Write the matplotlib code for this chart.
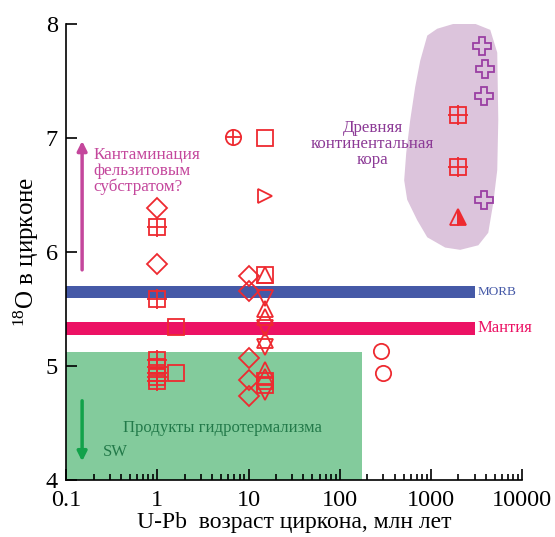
import numpy as np
import matplotlib
matplotlib.use("Agg")
import matplotlib.pyplot as plt
from matplotlib.ticker import FuncFormatter, LogLocator, NullFormatter

plt.rcParams['font.family'] = ['Liberation Serif', 'DejaVu Serif']
plt.rcParams['mathtext.fontset'] = 'custom'
plt.rcParams['mathtext.rm'] = 'Liberation Serif'
plt.rcParams['mathtext.default'] = 'regular'

# zircon samples: U-Pb age (Ma) and d18O, grouped by symbol
diamond_age = [1, 1, 10, 10, 10, 10, 10]
diamond_d18o = [6.39, 5.90, 5.79, 5.66, 5.07, 4.88, 4.74]

gridsq_age = [1, 1, 1, 1, 1, 1, 1, 2000, 2000]
gridsq_d18o = [6.22, 5.59, 5.05, 4.99, 4.94, 4.90, 4.87, 7.20, 6.75]

square_age = [1.6, 1.6, 15, 15, 15, 15]
square_d18o = [5.34, 4.94, 7.00, 5.80, 4.87, 4.83]

crosscirc_age = [6.8]
crosscirc_d18o = [7.01]

rtri_age = [15]
rtri_d18o = [6.49]

utri_age = [15, 15, 15, 15, 15, 15]
utri_d18o = [5.80, 5.50, 5.43, 5.23, 4.97, 4.90]

dtri_age = [15, 15, 15, 15]
dtri_d18o = [5.60, 5.33, 5.17, 4.77]

circle_age = [280, 300]
circle_d18o = [5.13, 4.94]

halftri_age = [2000]
halftri_d18o = [6.31]

plus_age = [3600, 3900, 3800, 3800]
plus_d18o = [7.81, 7.61, 7.37, 6.46]

# reference ranges
morb_range = (5.60, 5.70)
mantle_range = (5.27, 5.39)
band_end = 3000
hydro_top = 5.12
hydro_end = 175

# outline of the ancient continental crust field
crust_age = [2090, 2900, 4460, 5320, 5460, 5320, 4810, 4240, 3300, 2090, 1430,
             910, 706, 548, 508, 535, 592, 671, 762, 910, 1170]
crust_d18o = [8.02, 8.01, 7.95, 7.75, 7.16, 6.72, 6.43, 6.17, 6.06, 6.02, 6.04,
              6.13, 6.28, 6.46, 6.63, 6.87, 7.16, 7.45, 7.68, 7.90, 7.96]

red = '#ee2a30'
purple = '#9a3fa3'

fig = plt.figure(figsize=(5.55, 5.37), dpi=100)
ax = fig.add_axes([0.119, 0.106, 0.822, 0.849])

ax.fill(crust_age, crust_d18o, color='#dcc4dc', lw=0, zorder=0)
ax.fill_between([0.1, band_end], *morb_range, color='#4559a7', lw=0, zorder=1)
ax.fill_between([0.1, band_end], *mantle_range, color='#ec1264', lw=0, zorder=1)
ax.fill_between([0.1, hydro_end], 4.0, hydro_top, color='#83cb9c', lw=0, zorder=1)

mk = dict(ls='none', mfc='none', mec=red, mew=1.3, zorder=3)
ax.plot(diamond_age, diamond_d18o, marker='D', ms=10.5, **mk)
ax.plot(gridsq_age, gridsq_d18o, marker='s', ms=12, **mk)
ax.plot(gridsq_age, gridsq_d18o, marker='+', ms=15, **mk)
ax.plot(square_age, square_d18o, marker='s', ms=12, **mk)
ax.plot(crosscirc_age, crosscirc_d18o, marker='o', ms=11, **mk)
ax.plot(crosscirc_age, crosscirc_d18o, marker='+', ms=11, **mk)
ax.plot(rtri_age, rtri_d18o, marker='>', ms=10, **mk)
ax.plot(utri_age, utri_d18o, marker='^', ms=11, **mk)
ax.plot(dtri_age, dtri_d18o, marker='v', ms=11, **mk)
ax.plot(circle_age, circle_d18o, marker='o', ms=11, **mk)
ax.plot(halftri_age, halftri_d18o, ls='none', marker='^', ms=12, mfc=red,
        mfcalt='none', fillstyle='right', mec=red, mew=1.3, zorder=3)
ax.plot(plus_age, plus_d18o, ls='none', marker='P', ms=13, mfc='none',
        mec=purple, mew=1.3, zorder=3)

# arrows and labels
ax.annotate('', xy=(0.15, 7.0), xytext=(0.15, 5.82),
            arrowprops=dict(arrowstyle='-|>', color='#c4479c', lw=2.5,
                            mutation_scale=14))
ax.annotate('', xy=(0.15, 4.14), xytext=(0.15, 4.72),
            arrowprops=dict(arrowstyle='-|>', color='#12a24a', lw=2.5,
                            mutation_scale=14))
ax.text(0.2, 6.71, 'Кантаминация\nфельзитовым\nсубстратом?', color='#c4479c',
        fontsize=12.3, ha='left', va='center', linespacing=1.0)
ax.text(230, 6.95, 'Древняя\nконтинентальная\nкора', color='#8c3a96',
        fontsize=12.2, ha='center', va='center', linespacing=1.0)
ax.text(3250, 5.65, 'MORB', color='#4559a7', fontsize=9.5, ha='left', va='center')
ax.text(3250, 5.33, 'Мантия', color='#ec1264', fontsize=12, ha='left', va='center')
ax.text(5.2, 4.46, 'Продукты гидротермализма', color='#237a4a', fontsize=12,
        ha='center', va='center')
ax.text(0.255, 4.25, 'SW', color='#237a4a', fontsize=12, ha='left', va='center')

ax.set_xscale('log')
ax.set_xlim(0.1, 10000)
ax.set_ylim(4, 8)
ax.set_yticks([4, 5, 6, 7, 8])
ax.xaxis.set_major_formatter(FuncFormatter(lambda v, p: '%g' % v))
ax.xaxis.set_minor_locator(LogLocator(base=10, subs=np.arange(2, 10)))
ax.xaxis.set_minor_formatter(NullFormatter())
ax.tick_params(which='both', direction='in', labelsize=17.5, width=1.2)
ax.tick_params(which='major', length=8)
ax.tick_params(which='minor', length=4)
ax.tick_params(axis='x', which='major', pad=7)
ax.tick_params(axis='y', which='major', pad=6)
ax.spines['top'].set_visible(False)
ax.spines['right'].set_visible(False)
ax.spines['left'].set_linewidth(1.2)
ax.spines['bottom'].set_linewidth(1.2)

ax.set_xlabel('U-Pb  возраст циркона, млн лет', fontsize=17, labelpad=1)
ax.set_ylabel('$^{18}$O в цирконе', fontsize=18, labelpad=3)

fig.savefig('out.png', dpi=100)
